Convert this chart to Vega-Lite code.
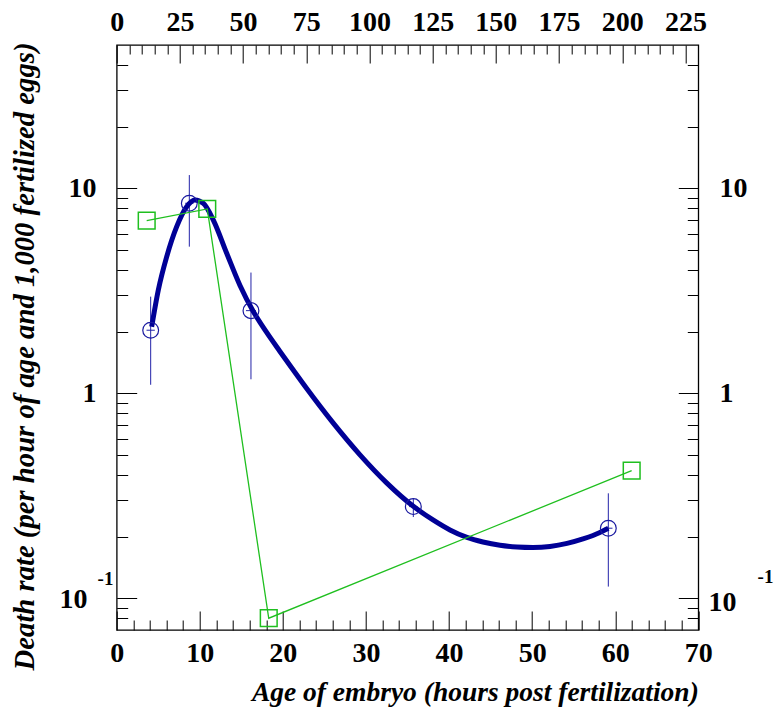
{
  "$schema": "https://vega.github.io/schema/vega-lite/v6.json",
  "width": 581.6,
  "height": 585,
  "autosize": {"type": "none"},
  "padding": {"left": 116.7, "top": 45, "right": 75.7, "bottom": 81},
  "background": "white",
  "config": {
    "view": {"stroke": "black", "strokeWidth": 1.3},
    "axis": {
      "domain": false, "grid": false,
      "labelFont": "Liberation Serif", "labelFontWeight": "bold", "labelFontSize": 28, "labelColor": "black",
      "tickColor": "black", "tickWidth": 1,
      "titleFont": "Liberation Serif", "titleFontWeight": "bold", "titleFontStyle": "italic", "titleFontSize": 27.5, "titleColor": "black",
      "labelOverlap": false, "labelBound": false, "labelFlush": false
    }
  },
  "datasets": {
    "circles": [
      {"hours": 4.09, "rate": 2.03, "lo": 1.10, "hi": 2.96, "hlo": 3.59, "hhi": 4.59},
      {"hours": 8.74, "rate": 8.45, "lo": 5.19, "hi": 11.6, "hlo": 8.24, "hhi": 9.24},
      {"hours": 16.16, "rate": 2.53, "lo": 1.17, "hi": 3.88, "hlo": 15.56, "hhi": 16.76},
      {"hours": 35.70, "rate": 0.280, "lo": 0.249, "hi": 0.308, "hlo": 35.2, "hhi": 36.2},
      {"hours": 59.17, "rate": 0.2196, "lo": 0.114, "hi": 0.325, "hlo": 58.67, "hhi": 59.67}
    ],
    "squares": [
      {"hours": 3.61, "rate": 6.95},
      {"hours": 10.90, "rate": 7.93},
      {"hours": 18.30, "rate": 0.0799},
      {"hours": 61.98, "rate": 0.419}
    ],
    "curve": [
      {"hours": 4.21, "rate": 2.11},
      {"hours": 5.01, "rate": 3.19},
      {"hours": 6.02, "rate": 4.64},
      {"hours": 7.22, "rate": 6.50},
      {"hours": 8.42, "rate": 8.13},
      {"hours": 9.42, "rate": 8.77},
      {"hours": 10.42, "rate": 8.45},
      {"hours": 11.63, "rate": 7.00},
      {"hours": 13.24, "rate": 4.82},
      {"hours": 14.84, "rate": 3.357},
      {"hours": 16.44, "rate": 2.506},
      {"hours": 18.05, "rate": 1.980},
      {"hours": 19.65, "rate": 1.599},
      {"hours": 21.25, "rate": 1.299},
      {"hours": 22.87, "rate": 1.055},
      {"hours": 26.07, "rate": 0.715},
      {"hours": 29.28, "rate": 0.5008},
      {"hours": 32.49, "rate": 0.3655},
      {"hours": 35.70, "rate": 0.2808},
      {"hours": 38.07, "rate": 0.2410},
      {"hours": 40.11, "rate": 0.2154},
      {"hours": 42.16, "rate": 0.1980},
      {"hours": 44.08, "rate": 0.1882},
      {"hours": 46.13, "rate": 0.1814},
      {"hours": 48.18, "rate": 0.1780},
      {"hours": 50.10, "rate": 0.1770},
      {"hours": 52.15, "rate": 0.1790},
      {"hours": 54.20, "rate": 0.1851},
      {"hours": 56.12, "rate": 0.1947},
      {"hours": 57.32, "rate": 0.2024},
      {"hours": 59.17, "rate": 0.2196}
    ],
    "mirror": [
      {"t": 0, "r": 0.1},
      {"t": 225, "r": 10}
    ],
    "exponent": [
      {"hours": 0, "rate": 0.1, "text": "-1"}
    ],
    "exponentRight": [
      {"hours": 70, "rate": 0.1, "text": "-1"}
    ]
  },
  "layer": [
    {
      "layer": [
        {
          "data": {"name": "circles"},
          "mark": {"type": "rule", "color": "#2323a8", "strokeWidth": 1},
          "encoding": {
            "x": {
              "field": "hours", "type": "quantitative",
              "scale": {"domain": [0, 70], "nice": false, "zero": false},
              "axis": {
                "orient": "bottom",
                "title": "Age of embryo (hours post fertilization)",
                "values": [0,10,20,30,40,50,60,70],
                "labelOverlap": false,
                "tickSize": -19,
                "labelPadding": 28,
                "titleAnchor": "end", "titleAlign": "right", "titleBaseline": "alphabetic",
                "titleX": 581.6, "titleY": 70
              }
            },
            "y": {
              "field": "lo", "type": "quantitative",
              "scale": {"type": "log", "domain": [0.07, 50], "nice": false},
              "axis": {
                "orient": "left",
                "title": "Death rate (per hour of age and 1,000 fertilized eggs)",
                "titleFontSize": 28.7,
                "values": [0.08,0.09,0.1,0.2,0.3,0.4,0.5,0.6,0.7,0.8,0.9,1,2,3,4,5,6,7,8,9,10,20,30,40],
                "labelExpr": "datum.value == 10 ? '10' : datum.value == 1 ? '1' : datum.value == 0.1 ? '10' : ''",
                "labelOverlap": false,
                "tickSize": {"condition": {"test": "datum.value == 10 || datum.value == 1 || datum.value == 0.1", "value": -20}, "value": -11},
                "labelPadding": {"condition": {"test": "datum.value == 0.1", "value": 49.7}, "value": 40.7},
                "labelOffset": {"condition": {"test": "datum.value == 0.1", "value": 1}, "value": 0},
                "titleAngle": -90, "titleAlign": "right", "titleBaseline": "alphabetic",
                "titleX": -83.7, "titleY": -3
              }
            },
            "y2": {"field": "hi"}
          }
        },
        {
          "data": {"name": "circles"},
          "mark": {"type": "rule", "color": "#2323a8", "strokeWidth": 1},
          "encoding": {
            "x": {"field": "hlo", "type": "quantitative"},
            "x2": {"field": "hhi"},
            "y": {"field": "rate", "type": "quantitative"}
          }
        },
        {
          "data": {"name": "curve"},
          "mark": {"type": "line", "color": "#000096", "strokeWidth": 5, "interpolate": "monotone"},
          "encoding": {
            "x": {"field": "hours", "type": "quantitative"},
            "y": {"field": "rate", "type": "quantitative"}
          }
        },
        {
          "data": {"name": "circles"},
          "mark": {"type": "point", "shape": "circle", "filled": false, "color": "#1a1aa0", "strokeWidth": 1.2, "size": 250, "opacity": 1},
          "encoding": {
            "x": {"field": "hours", "type": "quantitative"},
            "y": {"field": "rate", "type": "quantitative"}
          }
        },
        {
          "data": {"name": "squares"},
          "mark": {"type": "line", "color": "#1fbf1f", "strokeWidth": 1.3},
          "encoding": {
            "x": {"field": "hours", "type": "quantitative"},
            "y": {"field": "rate", "type": "quantitative"}
          }
        },
        {
          "data": {"name": "squares"},
          "mark": {"type": "point", "shape": "square", "filled": false, "color": "#1fbf1f", "strokeWidth": 1.5, "size": 280, "opacity": 1},
          "encoding": {
            "x": {"field": "hours", "type": "quantitative"},
            "y": {"field": "rate", "type": "quantitative"}
          }
        },
        {
          "data": {"name": "exponent"},
          "mark": {"type": "text", "font": "Liberation Serif", "fontWeight": "bold", "fontSize": 19, "color": "black", "align": "center", "baseline": "middle", "dx": -11.2, "dy": -19},
          "encoding": {
            "x": {"field": "hours", "type": "quantitative"},
            "y": {"field": "rate", "type": "quantitative"},
            "text": {"field": "text"}
          }
        },
        {
          "data": {"name": "exponentRight"},
          "mark": {"type": "text", "font": "Liberation Serif", "fontWeight": "bold", "fontSize": 19, "color": "black", "align": "center", "baseline": "middle", "dx": 67.2, "dy": -21},
          "encoding": {
            "x": {"field": "hours", "type": "quantitative"},
            "y": {"field": "rate", "type": "quantitative"},
            "text": {"field": "text"}
          }
        }
      ]
    },
    {
      "data": {"name": "mirror"},
      "mark": {"type": "point", "opacity": 0},
      "encoding": {
        "x": {
          "field": "t", "type": "quantitative",
          "scale": {"domain": [0, 230.1], "nice": false, "zero": false},
          "axis": {
            "orient": "top", "title": null,
            "values": [0,5,10,15,20,25,30,35,40,45,50,55,60,65,70,75,80,85,90,95,100,105,110,115,120,125,130,135,140,145,150,155,160,165,170,175,180,185,190,195,200,205,210,215,220,225],
            "labelExpr": "datum.value % 25 == 0 ? datum.label : ''",
            "labelOverlap": false,
            "tickSize": {"condition": {"test": "datum.value % 25 == 0", "value": -18}, "value": -9},
            "labelPadding": 26.5
          }
        },
        "y": {
          "field": "r", "type": "quantitative",
          "scale": {"type": "log", "domain": [0.07, 50], "nice": false},
          "axis": {
            "orient": "right", "title": null,
            "values": [0.08,0.09,0.1,0.2,0.3,0.4,0.5,0.6,0.7,0.8,0.9,1,2,3,4,5,6,7,8,9,10,20,30,40],
            "labelExpr": "datum.value == 10 ? '10' : datum.value == 1 ? '1' : datum.value == 0.1 ? '10' : ''",
            "labelOverlap": false,
            "tickSize": {"condition": {"test": "datum.value == 10 || datum.value == 1 || datum.value == 0.1", "value": -20}, "value": -11},
            "labelPadding": {"condition": {"test": "datum.value == 0.1", "value": 29.7}, "value": 40.7},
            "labelOffset": {"condition": {"test": "datum.value == 0.1", "value": 4}, "value": 0}
          }
        }
      }
    },
    {
      "data": {"name": "squares"},
      "mark": {"type": "point", "opacity": 0},
      "encoding": {
        "x": {
          "field": "hours", "type": "quantitative",
          "scale": {"domain": [0, 70], "nice": false, "zero": false},
          "axis": {
            "orient": "bottom", "title": null, "labels": false,
            "values": [2,4,6,8,12,14,16,18,22,24,26,28,32,34,36,38,42,44,46,48,52,54,56,58,62,64,66,68],
            "tickSize": -10
          }
        }
      }
    }
  ],
  "resolve": {"scale": {"x": "independent", "y": "independent"}}
}
